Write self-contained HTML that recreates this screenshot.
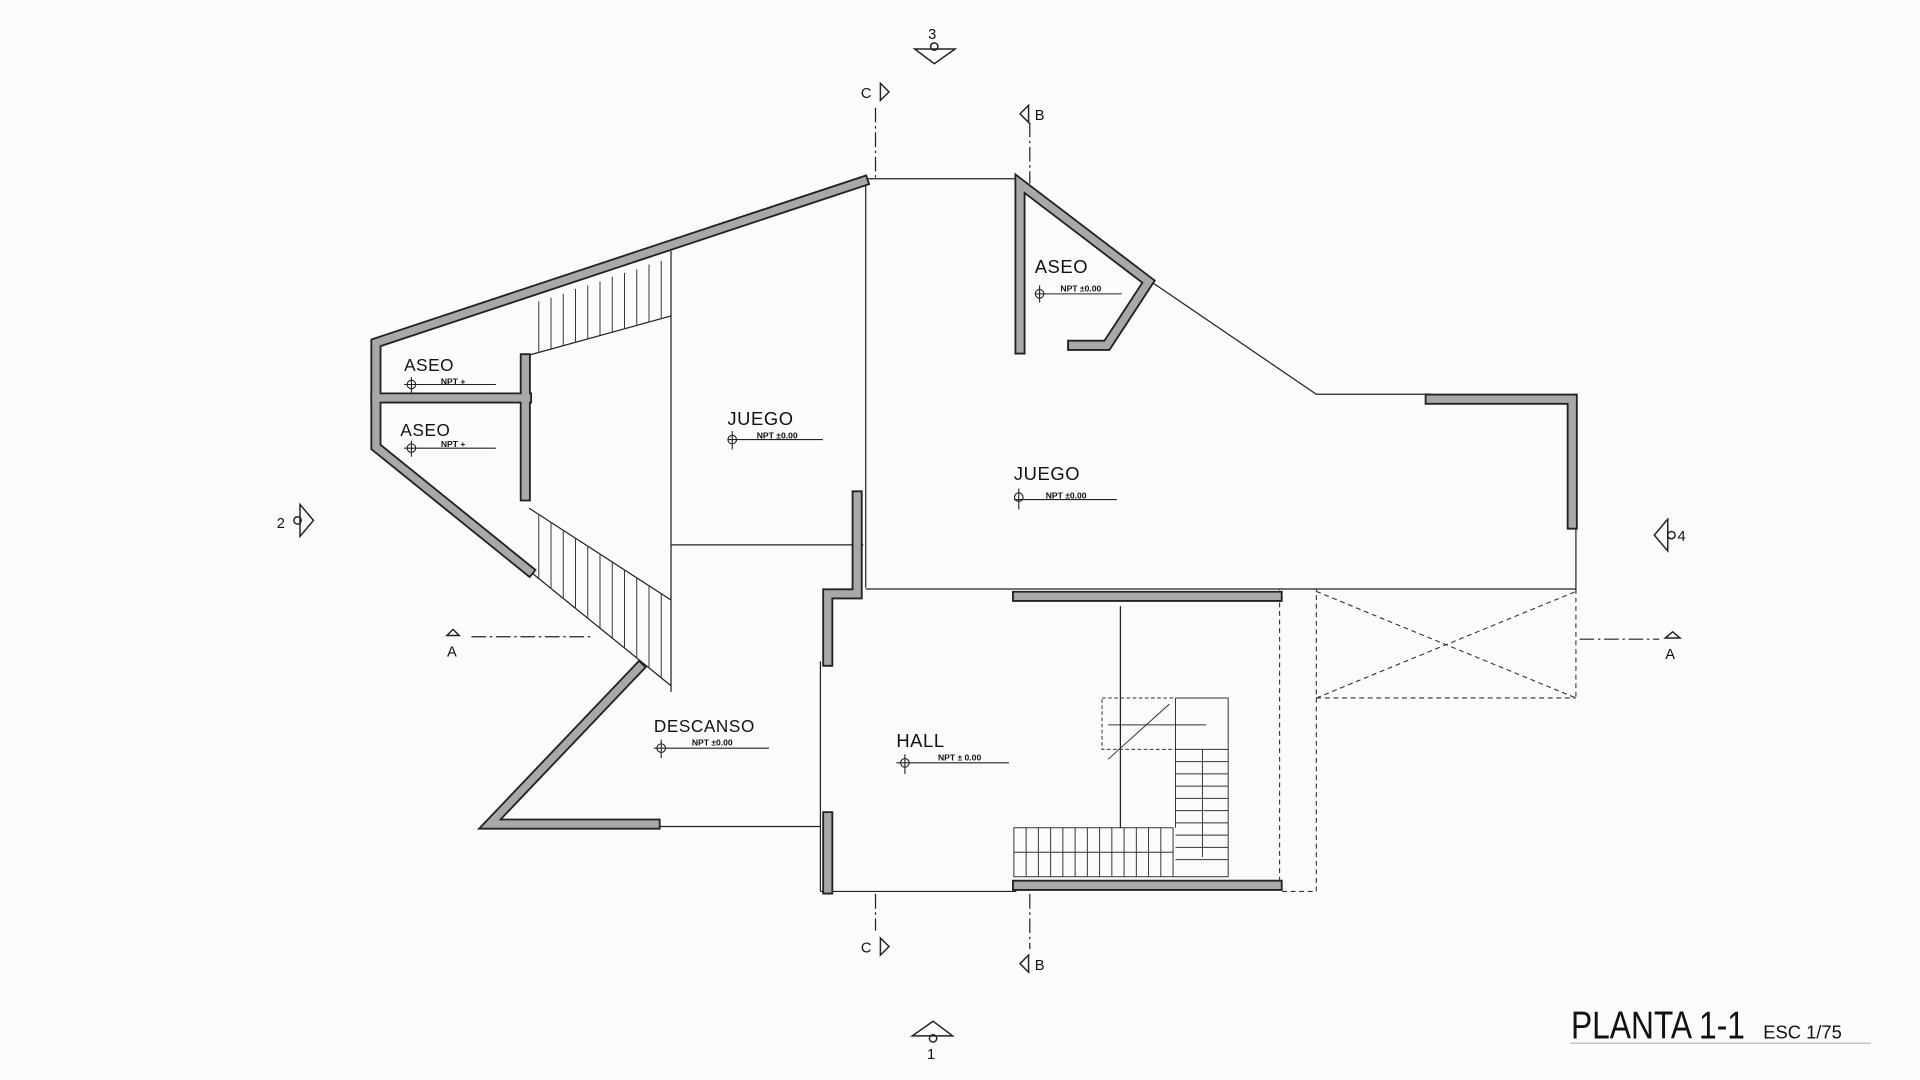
<!DOCTYPE html>
<html><head><meta charset="utf-8"><style>
html,body{margin:0;padding:0;background:#fbfbfb;}
svg{display:block}
text{font-family:"Liberation Sans",sans-serif;fill:#111}
</style></head><body>
<svg width="1920" height="1080" viewBox="0 0 1568 882" preserveAspectRatio="none" xmlns="http://www.w3.org/2000/svg">
<rect width="1568" height="882" fill="#fbfbfb"/>
<g fill="none" stroke="#222" stroke-width="1">
<line x1="548" y1="205" x2="548" y2="565"/>
<line x1="548" y1="445" x2="705" y2="445"/>
<line x1="707" y1="148" x2="707" y2="480"/>
<line x1="707" y1="146" x2="830" y2="146"/>
<polyline points="940,230 1075,322 1168,322"/>
<line x1="1287" y1="430" x2="1287" y2="483"/>
<line x1="707" y1="481" x2="1287" y2="481"/>
<line x1="537" y1="675" x2="670" y2="675"/>
<line x1="670" y1="540" x2="670" y2="728"/>
<line x1="670" y1="728" x2="830" y2="728"/>
<line x1="915" y1="495" x2="915" y2="676"/>
<line x1="432" y1="466" x2="548" y2="560"/>
<line x1="432" y1="415" x2="548" y2="490"/>
<line x1="432" y1="290" x2="548" y2="258"/>
</g>
<g stroke="#333" stroke-width="0.8">
<line x1="440" y1="246" x2="440" y2="288"/><line x1="450" y1="243" x2="450" y2="285"/><line x1="460" y1="240" x2="460" y2="282"/><line x1="470" y1="236" x2="470" y2="280"/><line x1="480" y1="233" x2="480" y2="277"/><line x1="490" y1="230" x2="490" y2="274"/><line x1="500" y1="226" x2="500" y2="271"/><line x1="510" y1="223" x2="510" y2="268"/><line x1="520" y1="220" x2="520" y2="266"/><line x1="530" y1="216" x2="530" y2="263"/><line x1="540" y1="213" x2="540" y2="260"/>
<line x1="440" y1="420" x2="440" y2="473"/><line x1="450" y1="427" x2="450" y2="481"/><line x1="460" y1="433" x2="460" y2="489"/><line x1="470" y1="440" x2="470" y2="497"/><line x1="480" y1="446" x2="480" y2="505"/><line x1="490" y1="453" x2="490" y2="513"/><line x1="500" y1="459" x2="500" y2="521"/><line x1="510" y1="466" x2="510" y2="529"/><line x1="520" y1="472" x2="520" y2="537"/><line x1="530" y1="479" x2="530" y2="545"/><line x1="540" y1="485" x2="540" y2="553"/>
</g>
<g stroke="#333" stroke-width="0.8" fill="none">
<rect x="828" y="676" width="130" height="40"/>
<line x1="838" y1="676" x2="838" y2="716"/><line x1="848" y1="676" x2="848" y2="716"/><line x1="858" y1="676" x2="858" y2="716"/><line x1="868" y1="676" x2="868" y2="716"/><line x1="878" y1="676" x2="878" y2="716"/><line x1="888" y1="676" x2="888" y2="716"/><line x1="898" y1="676" x2="898" y2="716"/><line x1="908" y1="676" x2="908" y2="716"/><line x1="918" y1="676" x2="918" y2="716"/><line x1="928" y1="676" x2="928" y2="716"/><line x1="938" y1="676" x2="938" y2="716"/><line x1="948" y1="676" x2="948" y2="716"/>
<polyline points="958,716 1003,716 1003,570 960,570"/>
<line x1="960" y1="612" x2="1003" y2="612"/><line x1="960" y1="570" x2="960" y2="676"/>
<line x1="960" y1="622" x2="1003" y2="622"/><line x1="960" y1="632" x2="1003" y2="632"/><line x1="960" y1="642" x2="1003" y2="642"/><line x1="960" y1="652" x2="1003" y2="652"/><line x1="960" y1="662" x2="1003" y2="662"/><line x1="960" y1="672" x2="1003" y2="672"/><line x1="960" y1="682" x2="1003" y2="682"/><line x1="960" y1="692" x2="1003" y2="692"/><line x1="960" y1="702" x2="1003" y2="702"/>
<rect x="900" y="570" width="60" height="42" stroke-dasharray="3,2"/>
<line x1="905" y1="620" x2="955" y2="575"/>
<polyline points="828,696 958,696"/>
<polyline points="982,700 982,612"/>
<polyline points="985,592 905,592"/>
</g>
<g stroke="#333" stroke-width="0.9" fill="none" stroke-dasharray="4,3">
<rect x="1045" y="481" width="30" height="247"/>
<line x1="1075" y1="570" x2="1287" y2="570"/>
<line x1="1075" y1="483" x2="1287" y2="570"/>
<line x1="1075" y1="570" x2="1287" y2="483"/>
<line x1="1287" y1="481" x2="1287" y2="570"/>
</g>
<g fill="none" stroke-linejoin="miter" stroke-linecap="square">
<g stroke="#222" stroke-width="9">
<polyline points="705,148 307,280 307,365 432,466"/>
<line x1="307" y1="325" x2="430" y2="325"/>
<line x1="429" y1="293" x2="429" y2="405"/>
<polyline points="522,545 400,673 535,673"/>
<polyline points="833,285 833,150 938,230 904,282 876,282"/>
<polyline points="1168,326 1284,326 1284,428"/>
<polyline points="700,405 700,485 676,485 676,540"/>
<line x1="831" y1="487" x2="1043" y2="487"/>
<line x1="831" y1="723" x2="1043" y2="723"/>
<line x1="676" y1="667" x2="676" y2="726"/>
</g>
<g stroke="#a8a8a8" stroke-width="6">
<polyline points="705,148 307,280 307,365 432,466"/>
<line x1="307" y1="325" x2="430" y2="325"/>
<line x1="429" y1="293" x2="429" y2="405"/>
<polyline points="522,545 400,673 535,673"/>
<polyline points="833,285 833,150 938,230 904,282 876,282"/>
<polyline points="1168,326 1284,326 1284,428"/>
<polyline points="700,405 700,485 676,485 676,540"/>
<line x1="831" y1="487" x2="1043" y2="487"/>
<line x1="831" y1="723" x2="1043" y2="723"/>
<line x1="676" y1="667" x2="676" y2="726"/>
</g>
</g>
<g stroke="#222" stroke-width="1" fill="none" stroke-dasharray="12,3,2,3">
<line x1="715" y1="88" x2="715" y2="146"/>
<line x1="715" y1="730" x2="715" y2="760"/>
<line x1="841" y1="100" x2="841" y2="150"/>
<line x1="841" y1="730" x2="841" y2="775"/>
<line x1="385" y1="520" x2="485" y2="520"/>
<line x1="1290" y1="522" x2="1355" y2="522"/>
</g>
<g stroke="#222" stroke-width="1.2" fill="none">
<path d="M747,40 L780,40 L763,52 Z"/><circle cx="763" cy="38" r="3"/>
<path d="M745,846 L778,846 L762,834 Z"/><circle cx="762" cy="848" r="3"/>
<path d="M245,412 L245,438 L256,425 Z"/><circle cx="243" cy="425" r="3"/>
<path d="M1362,424 L1362,450 L1351,437 Z"/><circle cx="1365" cy="437" r="3"/>
<path d="M719,68 L719,82 L726,75 Z"/><path d="M719,766 L719,780 L726,773 Z"/>
<path d="M840,86 L840,100 L833,93 Z"/><path d="M840,780 L840,794 L833,787 Z"/>
<path d="M365,519 L375,519 L370,514 Z"/><path d="M1360,521 L1372,521 L1366,516 Z"/>
</g>
<g font-size="12">
<text x="758" y="32">3</text><text x="757" y="865">1</text>
<text x="226" y="431">2</text><text x="1370" y="442">4</text>
<text x="703" y="80">C</text><text x="703" y="778">C</text>
<text x="845" y="98">B</text><text x="845" y="792">B</text>
<text x="365" y="536">A</text><text x="1360" y="538">A</text>
</g>
<g font-size="15" style="letter-spacing:0.5px">
<text x="330" y="303" font-size="14">ASEO</text>
<text x="327" y="356" font-size="14">ASEO</text>
<text x="594" y="347">JUEGO</text>
<text x="845" y="223">ASEO</text>
<text x="828" y="392">JUEGO</text>
<text x="534" y="598" font-size="14">DESCANSO</text>
<text x="732" y="610">HALL</text>
</g>
<g font-size="7" font-weight="bold">
<text x="360" y="314">NPT +</text><text x="360" y="365">NPT +</text>
<text x="618" y="358">NPT ±0.00</text><text x="866" y="238">NPT ±0.00</text>
<text x="854" y="407">NPT ±0.00</text><text x="565" y="609">NPT ±0.00</text>
<text x="766" y="621">NPT ± 0.00</text>
</g>
<g stroke="#222" stroke-width="0.9" fill="none">
<line x1="330" y1="314" x2="405" y2="314"/><circle cx="336" cy="314" r="3.5"/><line x1="336" y1="308" x2="336" y2="321"/>
<line x1="330" y1="366" x2="405" y2="366"/><circle cx="336" cy="366" r="3.5"/><line x1="336" y1="360" x2="336" y2="373"/>
<line x1="594" y1="359" x2="672" y2="359"/><circle cx="598" cy="359" r="3.5"/><line x1="598" y1="352" x2="598" y2="367"/>
<line x1="845" y1="240" x2="916" y2="240"/><circle cx="849" cy="240" r="3.5"/><line x1="849" y1="233" x2="849" y2="247"/>
<line x1="828" y1="408" x2="912" y2="408"/><circle cx="832" cy="406" r="3.5"/><line x1="832" y1="399" x2="832" y2="416"/>
<line x1="534" y1="611" x2="628" y2="611"/><circle cx="540" cy="611" r="3.5"/><line x1="540" y1="604" x2="540" y2="619"/>
<line x1="732" y1="623" x2="824" y2="623"/><circle cx="739" cy="623" r="3.5"/><line x1="739" y1="616" x2="739" y2="632"/>
</g>
<text x="1283" y="848" font-size="32" textLength="142" lengthAdjust="spacingAndGlyphs">PLANTA 1-1</text>
<text x="1440" y="848" font-size="15">ESC 1/75</text>
<line x1="1282" y1="852" x2="1528" y2="852" stroke="#bbb" stroke-width="1"/>
</svg>
</body></html>
